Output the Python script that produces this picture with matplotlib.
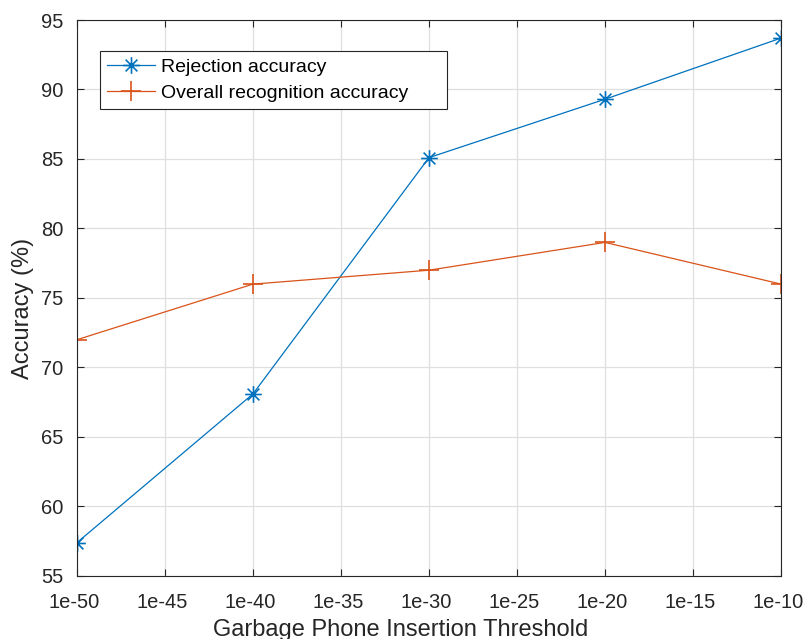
import numpy as np
import matplotlib.pyplot as plt
import matplotlib.transforms as mtransforms
from matplotlib.path import Path

# garbage phone insertion thresholds and measured accuracies (%)
thresholds = [1e-50, 1e-40, 1e-30, 1e-20, 1e-10]
rejection_acc = [57.4, 68.1, 85.1, 89.3, 93.7]
overall_acc = [72.0, 76.0, 77.0, 79.0, 76.0]
tick_exps = [-50, -45, -40, -35, -30, -25, -20, -15, -10]
y_ticks = [55, 60, 65, 70, 75, 80, 85, 90, 95]

plt.rcParams['font.family'] = ['Liberation Sans', 'DejaVu Sans']
axis_gray = '#262626'

# eight-spoke asterisk marker (plus + cross)
d = 0.7071
asterisk = Path(
    [(-1, 0), (1, 0), (0, -1), (0, 1), (-d, -d), (d, d), (-d, d), (d, -d)],
    [Path.MOVETO, Path.LINETO] * 4,
)

fig = plt.figure(figsize=(8.07, 6.39), dpi=100)
ax = fig.add_axes([0.0954, 0.0986, 0.8724, 0.8701])

ax.plot(thresholds, rejection_acc, color='#0072BD', marker=asterisk, markersize=12,
        markeredgewidth=1.2, markerfacecolor='none', linewidth=0.9,
        label='Rejection accuracy')
ax.plot(thresholds, overall_acc, color='#D95319', marker='+', markersize=14,
        markeredgewidth=1.2, linewidth=0.9, label='Overall recognition accuracy')

ax.set_xscale('log')
ax.set_xlim(1e-50, 1e-10)
ax.set_ylim(55, 95)
ticks = [10.0 ** e for e in tick_exps]
ax.set_xticks(ticks)
ax.set_xticklabels([f'1e{e}' for e in tick_exps])
ax.minorticks_off()
ax.set_yticks(y_ticks)

ax.grid(True, color='#dfdfdf', linewidth=0.9)
ax.set_axisbelow(True)
ax.tick_params(direction='in', top=True, right=True, length=5, width=0.8,
               colors=axis_gray, labelsize=14.5)
ax.tick_params(axis='y', pad=10)
ax.tick_params(axis='x', pad=12)
for s in ax.spines.values():
    s.set_color(axis_gray)
    s.set_linewidth(0.8)

# nudge x tick labels a few pixels left
shift = mtransforms.ScaledTranslation(-3 / 100, 0, fig.dpi_scale_trans)
for lab in ax.get_xticklabels():
    lab.set_transform(lab.get_transform() + shift)

ax.set_xlabel('Garbage Phone Insertion Threshold', fontsize=17, color=axis_gray, labelpad=5)
ax.set_ylabel('Accuracy (%)', fontsize=17, color=axis_gray, labelpad=5)
ax.xaxis.label.set_x(0.46)
ax.yaxis.label.set_y(0.481)

leg = ax.legend(loc='upper left', bbox_to_anchor=(0.0327, 0.5, 0.493, 0.444),
                mode='expand', fontsize=14,
                fancybox=False, edgecolor=axis_gray, framealpha=1,
                handlelength=2.45, handletextpad=0.3, borderpad=0.38, labelspacing=0.4,
                borderaxespad=0)
leg.get_frame().set_linewidth(0.8)

fig.savefig('out.png', dpi=100)
